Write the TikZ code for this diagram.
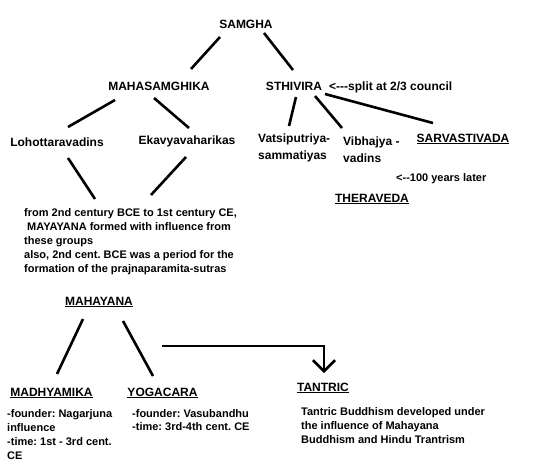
\documentclass[tikz,border=0pt]{standalone}
\usepackage{fontspec}
\setmainfont{Liberation Sans}
\usetikzlibrary{arrows.meta,calc}
\begin{document}
\frenchspacing
\begin{tikzpicture}[x=1pt,y=-1pt,
  lbl/.style={inner sep=0pt,anchor=base,font=\fontsize{12}{14}\selectfont\bfseries},
  mlbl/.style={inner sep=0pt,anchor=north west,align=left,font=\fontsize{12}{17}\selectfont\bfseries},
  txt/.style={inner sep=0pt,anchor=north west,align=left,font=\fontsize{11}{14}\selectfont\bfseries},
  conn/.style={line width=2.6pt}]
\useasboundingbox[fill=white] (0,0) rectangle (550,466);

\node[lbl] (samgha) at (246,28) {SAMGHA};
\node[lbl] (maha) at (159,90) {MAHASAMGHIKA};
\node[lbl] (sthi) at (294,90) {STHIVIRA};
\node[lbl,anchor=base west] (split) at (329,90) {<-{}-{}-split at 2/3 council};
\node[lbl] (loho) at (57,146) {Lohottaravadins};
\node[lbl] (ekav) at (187,144) {Ekavyavaharikas};
\node[mlbl] (vats) at (258,134) {Vatsiputriya-\\sammatiyas};
\node[mlbl] (vibh) at (343,137) {Vibhajya -\\vadins};
\node[lbl] (sarv) at (463,142) {\underline{SARVASTIVADA}};
\node[txt,anchor=base west] (hundred) at (396,181) {<-{}-100 years later};
\node[lbl] (thera) at (372,202) {\underline{THERAVEDA}};
\node[txt] (para) at (24,208) {from 2nd century BCE to 1st century CE,\\\hspace{3pt}MAYAYANA formed with influence from\\these groups\\also, 2nd cent. BCE was a period for the\\formation of the prajnaparamita-sutras};
\node[lbl] (mahay) at (99,305) {\underline{MAHAYANA}};
\node[lbl] (madh) at (51.5,396) {\underline{MADHYAMIKA}};
\node[lbl] (yoga) at (162.5,396) {\underline{YOGACARA}};
\node[lbl] (tant) at (323,391) {\underline{TANTRIC}};
\node[txt] (madhtxt) at (7,409) {-founder: Nagarjuna\\influence\\-time: 1st - 3rd cent.\\CE};
\node[txt,font=\fontsize{11}{13}\selectfont\bfseries] (yogatxt) at (132,409) {-founder: Vasubandhu\\-time: 3rd-4th cent. CE};
\node[txt] (tanttxt) at (301,407) {Tantric Buddhism developed under\\the influence of Mahayana\\Buddhism and Hindu Trantrism};

\draw[conn] ([shift={(-26,9)}]samgha.base) -- ([shift={(32,-21)}]maha.base);
\draw[conn] ([shift={(18,5)}]samgha.base) -- ([shift={(-1,-20)}]sthi.base);
\draw[conn] ([shift={(-44,10)}]maha.base) -- ([shift={(11,-19)}]loho.base);
\draw[conn] ([shift={(-5,8)}]maha.base) -- ([shift={(2,-16)}]ekav.base);
\draw[conn] ([shift={(2,7)}]sthi.base) -- ([shift={(31,-8)}]vats.north west);
\draw[conn] ([shift={(21,6)}]sthi.base) -- ([shift={(-1,-9)}]vibh.north west);
\draw[conn] ([shift={(31,4)}]sthi.base) -- ([shift={(-30,-19)}]sarv.base);
\draw[conn] ([shift={(11,12)}]loho.base) -- ([shift={(71,-9)}]para.north west);
\draw[conn] ([shift={(-1,13)}]ekav.base) -- ([shift={(127,-13)}]para.north west);
\draw[conn] ([shift={(-16,14)}]mahay.base) -- ([shift={(5.5,-22)}]madh.base);
\draw[conn] ([shift={(24,16)}]mahay.base) -- ([shift={(-9.5,-20)}]yoga.base);
\coordinate (arrstart) at (162,346);
\draw[conn,-{Straight Barb[length=11pt,width=22pt]}] (arrstart) -| ([shift={(1,-18)}]tant.base);
\end{tikzpicture}
\end{document}
